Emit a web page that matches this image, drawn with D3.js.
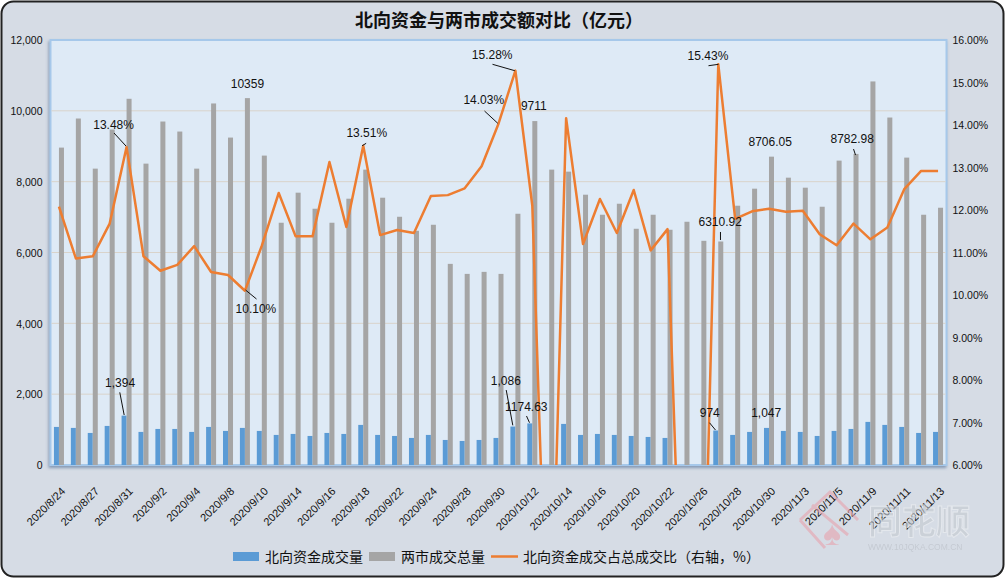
<!DOCTYPE html>
<html><head><meta charset="utf-8">
<script src="https://cdn.jsdelivr.net/npm/d3@7"></script>
<style>
html,body{margin:0;padding:0;background:#fff;}
svg{display:block;}
</style></head><body>
<svg id="chart" width="1006" height="579"></svg>
<script>
// ---------------- data ----------------
const chartTitle = "北向资金与两市成交额对比（亿元）";
const seriesNames = ["北向资金成交量", "两市成交总量", "北向资金成交占总成交比（右轴，%）"];
const dates = ["2020/8/24","2020/8/25","2020/8/27","2020/8/28","2020/8/31","2020/9/1","2020/9/2","2020/9/3","2020/9/4","2020/9/7",
  "2020/9/8","2020/9/9","2020/9/10","2020/9/11","2020/9/14","2020/9/15","2020/9/16","2020/9/17","2020/9/18","2020/9/21",
  "2020/9/22","2020/9/23","2020/9/24","2020/9/25","2020/9/28","2020/9/29","2020/9/30","2020/10/9","2020/10/12","2020/10/13",
  "2020/10/14","2020/10/15","2020/10/16","2020/10/19","2020/10/20","2020/10/21","2020/10/22","2020/10/23","2020/10/26","2020/10/27",
  "2020/10/28","2020/10/29","2020/10/30","2020/11/2","2020/11/3","2020/11/4","2020/11/5","2020/11/6","2020/11/9","2020/11/10",
  "2020/11/11","2020/11/12","2020/11/13"];
const northbound = [1075,1047,905,1103,1394,934,1018,1018,934,1075,
  962,1047,962,849,877,820,905,877,1132,849,
  820,764,849,707,679,707,764,1086,1174.63,null,
  1160,849,877,849,820,792,764,null,null,974,
  849,934,1047,962,934,820,962,1018,1217,1132,
  1075,905,934];
const totalTurnover = [8962,9783,8368,9472,10340,8509,9698,9415,8368,10208,
  9245,10359,8736,6840,7689,7236,6840,7519,8340,7547,
  7009,6613,6783,5679,5396,5453,5396,7094,9711,8340,
  8283,7632,7066,7377,6670,7066,6642,6868,6330,6310.92,
  7321,7802,8706.05,8113,7830,7292,8594,8782.98,10830,9811,
  8679,7066,7264];
const ratioPct = [12.08,10.86,10.91,11.68,13.48,10.91,10.57,10.71,11.15,10.54,
  10.47,10.10,11.16,12.40,11.38,11.38,13.13,11.60,13.51,11.41,
  11.53,11.46,12.33,12.35,12.51,13.03,14.03,15.28,12.10,0,
  14.16,11.20,12.26,11.46,12.47,11.05,11.55,0,0,15.43,
  11.79,11.97,12.03,11.96,11.98,11.43,11.17,11.68,11.31,11.59,
  12.49,12.92,12.92];
const leftTicks = [0,2000,4000,6000,8000,10000,12000];
const rightTicks = [6,7,8,9,10,11,12,13,14,15,16];
const labelEvery = 2;
// data labels shown on the chart: series, category index, text
const annotations = [
  {series:"ratio", index:4,  text:"13.48%"},
  {series:"total", index:11, text:"10359"},
  {series:"ratio", index:11, text:"10.10%"},
  {series:"north", index:4,  text:"1,394"},
  {series:"ratio", index:18, text:"13.51%"},
  {series:"ratio", index:26, text:"14.03%"},
  {series:"ratio", index:27, text:"15.28%"},
  {series:"total", index:28, text:"9711"},
  {series:"north", index:27, text:"1,086"},
  {series:"north", index:28, text:"1174.63"},
  {series:"ratio", index:39, text:"15.43%"},
  {series:"total", index:39, text:"6310.92"},
  {series:"north", index:39, text:"974"},
  {series:"north", index:42, text:"1,047"},
  {series:"total", index:42, text:"8706.05"},
  {series:"total", index:47, text:"8782.98"}
];
// label placement (offset from the data point) and leader line offsets
const annotationLayout = [
  {dx:-13, dy:-18.6, leader:[-12.6,-14.1,-0.6,-1.1]},
  {dx:0, dy:-10, leader:null},
  {dx:11, dy:22, leader:[0.6,-0.75,11.6,8.25]},
  {dx:-4, dy:-28.6, leader:[-4.3,-23.3,0.1,-0.6]},
  {dx:3.5, dy:-8.8, leader:[-1.1,-0.1,2.9,-2.5]},
  {dx:-14.7, dy:-19.7, leader:[-14,-12.7,-0.7,-0.4]},
  {dx:-23.2, dy:-12.1, leader:[-22.9,-6.3,-0.6,0.1]},
  {dx:-1, dy:-11, leader:null},
  {dx:-7.1, dy:-41.5, leader:[-6.7,-36.5,-0.1,-1.2]},
  {dx:-3.5, dy:-12.4, leader:[-3.3,-7.4,-0.3,-0.7]},
  {dx:-10.3, dy:-4.2, leader:[-9.8,1.5,0.2,0.1]},
  {dx:-0.6, dy:-15, leader:[-0.3,-9.5,-0.3,-1.5]},
  {dx:-6, dy:-13.5, leader:[-6.3,-7.8,-0.3,-0.5]},
  {dx:-0.3, dy:-10.9, leader:null},
  {dx:-1.3, dy:-11, leader:null},
  {dx:-3.8, dy:-10.9, leader:[-2.5,-4.9,-0.5,1.1]}
];

// ---------------- layout ----------------
const W = 1006, H = 579;
const plot = {left:50.5, right:946.5, top:40, bottom:465};
const colors = {north:"#5B9BD5", total:"#A5A5A5", ratio:"#ED7D31"};
const numFont = "'Liberation Sans', Arial, sans-serif";
const cjkFont = "'Noto Sans CJK SC', 'Noto Sans', sans-serif";

const svg = d3.select("#chart");
const defs = svg.append("defs");
defs.append("clipPath").attr("id","plotClip").append("rect")
  .attr("x", plot.left).attr("y", plot.top)
  .attr("width", plot.right - plot.left).attr("height", plot.bottom - plot.top);
const flt = defs.append("filter").attr("id","shadow")
  .attr("x","-3%").attr("y","-3%").attr("width","106%").attr("height","108%");
flt.append("feDropShadow").attr("dx",-1).attr("dy",2).attr("stdDeviation",1.4)
  .attr("flood-color","#3d5f8a").attr("flood-opacity",0.55);

// outer background
svg.append("rect").attr("x",1.5).attr("y",1.5).attr("width",1002).attr("height",575)
  .attr("rx",12).attr("ry",12).attr("fill","#D6DCE5").attr("stroke","#222").attr("stroke-width",2);

// title
svg.append("text").attr("x",499).attr("y",27).attr("text-anchor","middle")
  .attr("font-family",cjkFont).attr("font-weight","bold").attr("font-size",18)
  .attr("fill","#111").text(chartTitle);

// plot area
svg.append("rect").attr("x",plot.left).attr("y",plot.top)
  .attr("width",plot.right-plot.left).attr("height",plot.bottom-plot.top)
  .attr("fill","#DEEAF6").attr("stroke","#A6C8EA").attr("stroke-width",2)
  .attr("filter","url(#shadow)");

// scales
const x = d3.scaleBand().domain(dates).range([plot.left, plot.right]).paddingInner(0).paddingOuter(0);
const xc = d => x(d) + x.bandwidth()/2;
const xSub = d3.scaleBand().domain(["north","total"]).range([-5, 5]);
const yL = d3.scaleLinear().domain([0,12000]).range([plot.bottom, plot.top]);
const yR = d3.scaleLinear().domain([6,16]).range([plot.bottom, plot.top]);

// gridlines
svg.append("g").selectAll("line").data(leftTicks.filter(t => t > 0 && t < 12000)).join("line")
  .attr("x1",plot.left+1).attr("x2",plot.right-1)
  .attr("y1",d=>yL(d)).attr("y2",d=>yL(d))
  .attr("stroke","#D9D3CA").attr("stroke-width",1);

// left axis
const leftAxis = d3.axisLeft(yL).tickValues(leftTicks).tickSize(0).tickPadding(8)
  .tickFormat(d3.format(","));
const gL = svg.append("g").attr("transform",`translate(${plot.left},0)`).call(leftAxis);
gL.select(".domain").remove();
gL.selectAll("text").attr("font-family",numFont).attr("font-size",10.5).attr("fill","#111")
  .attr("x",-8).attr("dy","0.36em");

// right axis
const rightAxis = d3.axisRight(yR).tickValues(rightTicks).tickSize(0).tickPadding(6)
  .tickFormat(d => d.toFixed(2) + "%");
const gR = svg.append("g").attr("transform",`translate(${plot.right},0)`).call(rightAxis);
gR.select(".domain").remove();
gR.selectAll("text").attr("font-family",numFont).attr("font-size",10.5).attr("fill","#111")
  .attr("dy","0.36em");

// x labels (every other category)
const xAxis = d3.axisBottom(x).tickValues(dates.filter((d,i)=> i % labelEvery === 0)).tickSize(0).tickPadding(0);
const gX = svg.append("g").attr("transform",`translate(0,${plot.bottom})`).call(xAxis);
gX.select(".domain").remove();
gX.selectAll(".tick text")
  .attr("font-family",numFont).attr("font-size",11).attr("fill","#111")
  .attr("text-anchor","end").attr("y",0).attr("dy",0)
  .attr("transform","translate(7,27) rotate(-45)");

// bars
const plotG = svg.append("g");
plotG.selectAll("rect.north").data(dates.map((d,i)=>({d, v:northbound[i]})).filter(o=>o.v!=null))
  .join("rect").attr("class","north")
  .attr("x",o=>xc(o.d)+xSub("north")).attr("width",xSub.bandwidth())
  .attr("y",o=>yL(o.v)).attr("height",o=>yL(0)-yL(o.v)).attr("fill",colors.north);
plotG.selectAll("rect.total").data(dates.map((d,i)=>({d, v:totalTurnover[i]})).filter(o=>o.v!=null))
  .join("rect").attr("class","total")
  .attr("x",o=>xc(o.d)+xSub("total")).attr("width",xSub.bandwidth())
  .attr("y",o=>yL(o.v)).attr("height",o=>yL(0)-yL(o.v)).attr("fill",colors.total);

// line
const line = d3.line().x((v,i)=>xc(dates[i])).y(v=>yR(v));
svg.append("path").attr("clip-path","url(#plotClip)")
  .attr("d", line(ratioPct)).attr("fill","none").attr("stroke",colors.ratio)
  .attr("stroke-width",2.5).attr("stroke-linejoin","round");

// data labels
const anchorOf = a => {
  const d = dates[a.index];
  if (a.series === "ratio") return [xc(d), yR(ratioPct[a.index])];
  if (a.series === "north") return [xc(d)+xSub("north")+xSub.bandwidth()/2, yL(northbound[a.index])];
  return [xc(d)+xSub("total")+xSub.bandwidth()/2, yL(totalTurnover[a.index])];
};
const annG = svg.append("g");
annotations.forEach((a,k)=>{
  const [ax, ay] = anchorOf(a);
  const lay = annotationLayout[k];
  if (lay.leader) {
    annG.append("line").attr("x1",ax+lay.leader[0]).attr("y1",ay+lay.leader[1])
      .attr("x2",ax+lay.leader[2]).attr("y2",ay+lay.leader[3])
      .attr("stroke","#111").attr("stroke-width",1);
  }
  annG.append("text").attr("x",ax+lay.dx).attr("y",ay+lay.dy).attr("text-anchor","middle")
    .attr("font-family",numFont).attr("font-size",12).attr("fill","#111").text(a.text);
});

// watermark (同花顺)
const wm = svg.append("g").attr("opacity",0.6);
wm.append("path").attr("d","M800,520 L830,492 L858,520 M812,505 L848,535 M800,520 L825,548")
  .attr("fill","none").attr("stroke","#E7A3AE").attr("stroke-width",3);
wm.append("text").attr("x",832).attr("y",545).attr("text-anchor","middle")
  .attr("font-size",34).attr("fill","#E7A3AE").text("♠");
wm.append("text").attr("x",868).attr("y",534).attr("font-family",cjkFont).attr("font-weight","bold")
  .attr("font-size",34).attr("fill","#C5CAD1").attr("stroke","#EEF0F3").attr("stroke-width",1).text("同花顺");
wm.append("text").attr("x",868).attr("y",550).attr("font-family",numFont)
  .attr("font-size",8.5).attr("fill","#B9BEC6").text("WWW.10JQKA.COM.CN");

// legend
const legG = svg.append("g").attr("font-family",cjkFont).attr("font-size",14).attr("fill","#111");
let lx = 233; const ly = 556.5;
seriesNames.forEach((name,i)=>{
  if (i < 2) {
    legG.append("rect").attr("x",lx).attr("y",ly-4.5).attr("width",26).attr("height",9)
      .attr("fill", i===0 ? colors.north : colors.total);
  } else {
    legG.append("line").attr("x1",lx).attr("x2",lx+27).attr("y1",ly).attr("y2",ly)
      .attr("stroke",colors.ratio).attr("stroke-width",2.5);
  }
  const t = legG.append("text").attr("x",lx+32).attr("y",ly+5).text(name);
  lx = lx + 32 + t.node().getComputedTextLength() + 6;
});
</script>
</body></html>
